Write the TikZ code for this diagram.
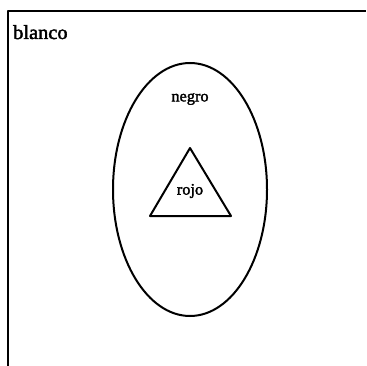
\documentclass[tikz,border=0pt]{standalone}
\usepackage{fontspec}
\setmainfont{Liberation Serif}
\newfontfamily\lblfont[FakeBold=2,FakeStretch=1.02]{Liberation Serif}
\begin{document}
\begin{tikzpicture}[x=1pt,y=-1pt,
  shape line/.style={draw=black,line width=2pt,line join=round},
  lbl/.style={font=\lblfont\fontsize{16}{18}\selectfont,inner sep=0pt}]
\useasboundingbox (0,0) rectangle (366,366);
\fill[white] (0,0) rectangle (366,366);
% frame (extends beyond the picture on the right and bottom)
\draw[shape line,line width=1.7pt] (8,366) -- (8,11) -- (366,11);
% ellipse
\draw[shape line] (190,189.5) ellipse [x radius=77, y radius=126.5];
% triangle
\draw[shape line] (190,148) -- (231,216) -- (150,216) -- cycle;
% labels
\node[lbl,font=\lblfont\fontsize{20}{22}\selectfont,anchor=base west] (blanco) at (13,39) {blanco};
\node[lbl] (negro) at (190,99) {negro};
\node[lbl] (rojo) at (190,191) {rojo};
\end{tikzpicture}
\end{document}
